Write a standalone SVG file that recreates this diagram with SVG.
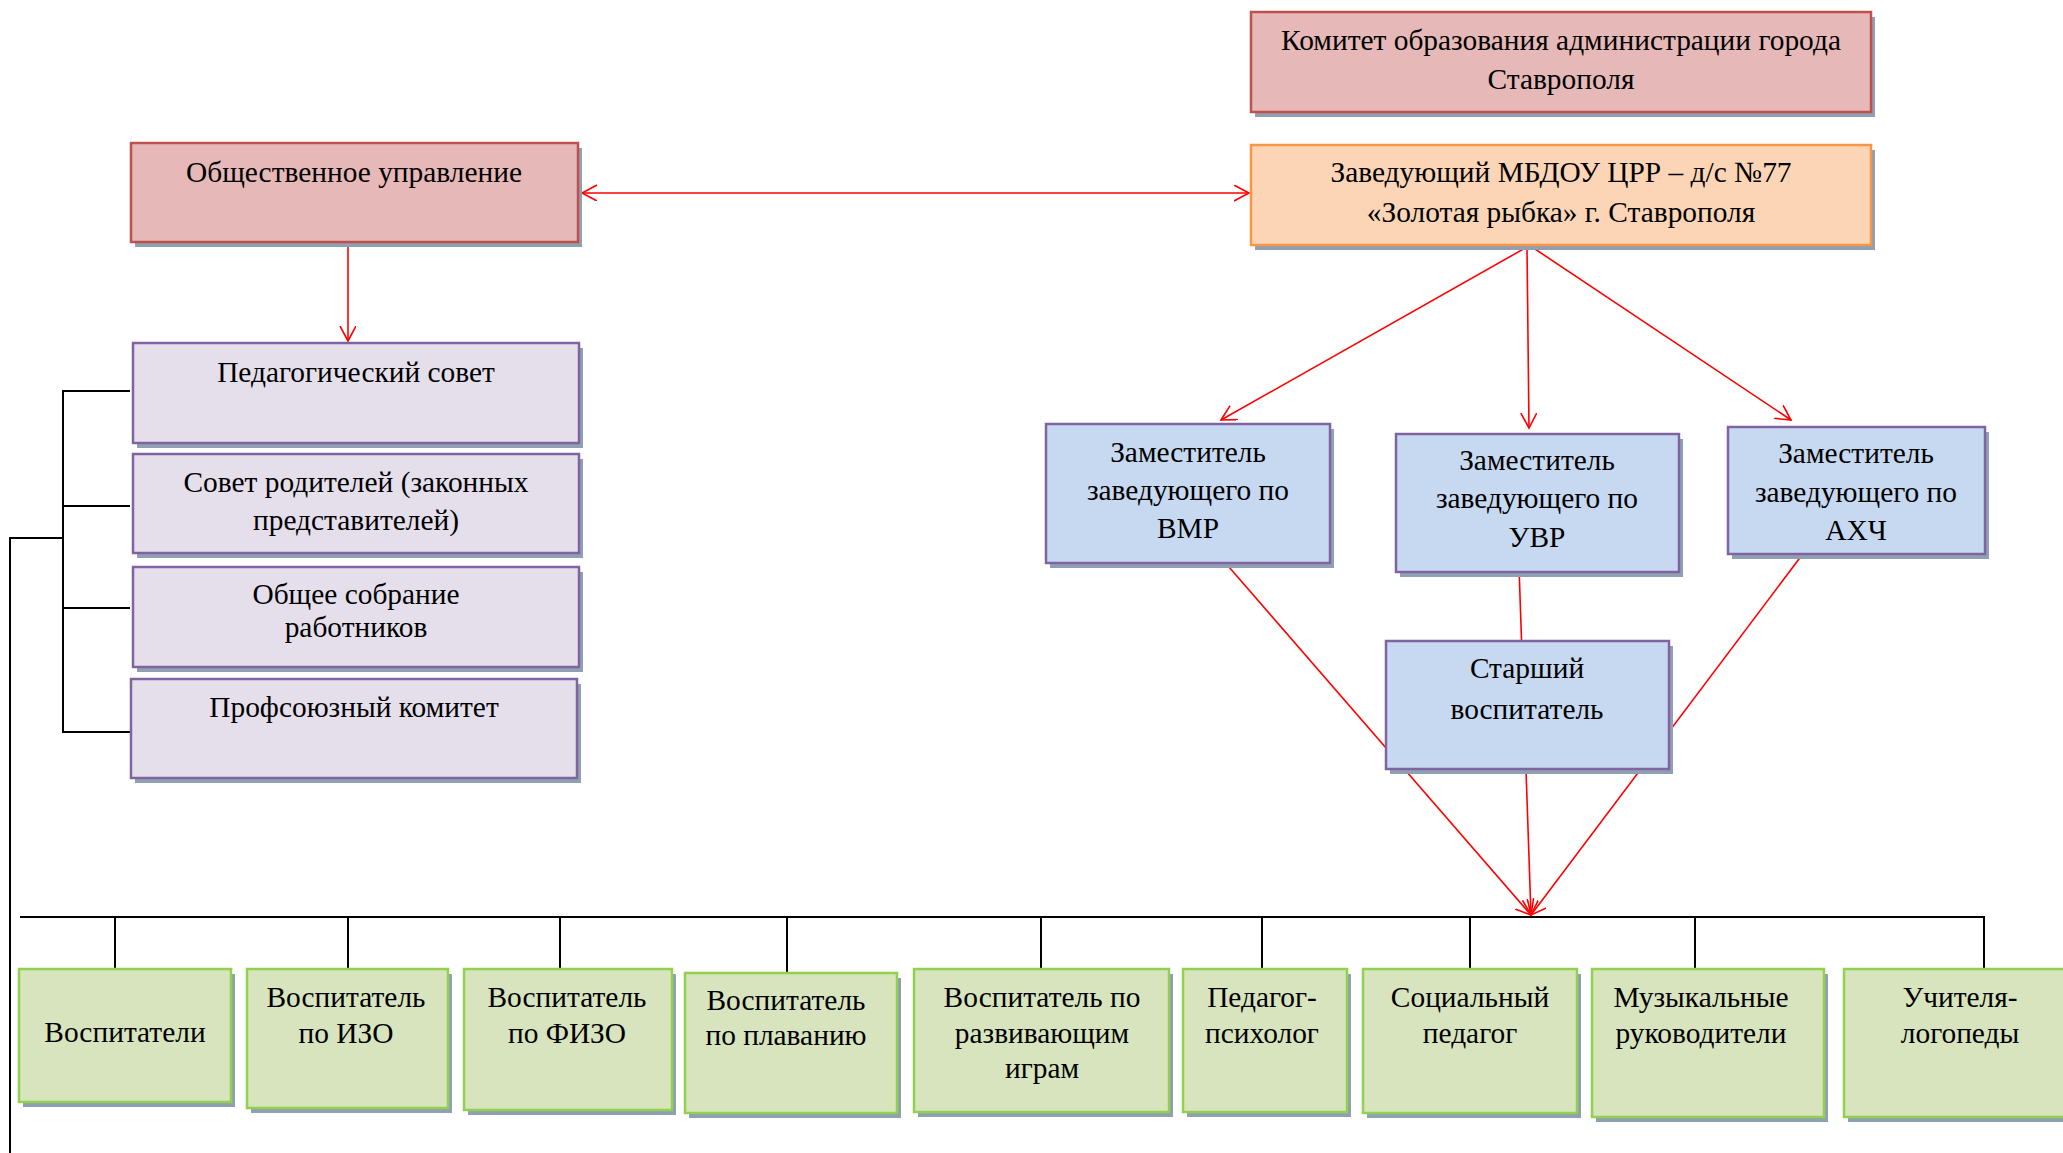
<svg xmlns="http://www.w3.org/2000/svg" width="2063" height="1153" viewBox="0 0 2063 1153">
<style>
text{font-family:"Liberation Serif","Times New Roman",serif;font-size:29.4px;fill:#000;text-anchor:middle}
.sh{fill:#8FA0B2}
.red{fill:#E6B8B7;stroke:#C0504D;stroke-width:2.5}
.ora{fill:#FBD5B5;stroke:#F79646;stroke-width:2.5}
.pur{fill:#E5DFEC;stroke:#8064A2;stroke-width:2.5}
.blu{fill:#C6D9F1;stroke:#8064A2;stroke-width:2.5}
.grn{fill:#D7E4BD;stroke:#92D050;stroke-width:2.5}
.ra{stroke:#FF0000;stroke-width:1.6;fill:none}
.bl{stroke:#000;stroke-width:2;fill:none}
</style>
<defs>
<marker id="ah" markerUnits="userSpaceOnUse" markerWidth="18" markerHeight="18" refX="15" refY="8" orient="auto-start-reverse">
<path d="M0,0 L15,8 L0,16" fill="none" stroke="#FF0000" stroke-width="1.6"/>
</marker>
</defs>
<rect width="2063" height="1153" fill="#fff"/>

<g id="connectors">
<line class="ra" x1="1519" y1="567" x2="1531" y2="915" marker-end="url(#ah)"/>
<line class="ra" x1="1229" y1="567" x2="1531" y2="915" marker-end="url(#ah)"/>
<line class="ra" x1="1802" y1="555" x2="1531" y2="915" marker-end="url(#ah)"/>
<line class="ra" x1="582" y1="193" x2="1249" y2="193" marker-start="url(#ah)" marker-end="url(#ah)"/>
<line class="ra" x1="348" y1="244" x2="348" y2="341" marker-end="url(#ah)"/>
<line class="ra" x1="1527" y1="247" x2="1221" y2="420" marker-end="url(#ah)"/>
<line class="ra" x1="1527" y1="247" x2="1529" y2="428" marker-end="url(#ah)"/>
<line class="ra" x1="1532" y1="247" x2="1791" y2="420" marker-end="url(#ah)"/>
<path class="bl" d="M130,391 H63 V732 H130 M63,506 H130 M63,608 H130 M63,538 H10 V1153"/>
<path class="bl" d="M20,917 H1984 V969 M115,917 V969 M348,917 V969 M560,917 V969 M787,917 V972 M1041,917 V969 M1262,917 V969 M1470,917 V969 M1695,917 V969"/>
</g>

<g id="komitet">
<rect class="sh" x="1255" y="17" width="620" height="100"/>
<rect class="red" x="1251" y="12" width="620" height="100"/>
<text x="1561" y="50">Комитет образования администрации города</text>
<text x="1561" y="89">Ставрополя</text>
</g>
<g id="zaveduyushchiy">
<rect class="sh" x="1255" y="150" width="620" height="100"/>
<rect class="ora" x="1251" y="145" width="620" height="100"/>
<text x="1561" y="182">Заведующий МБДОУ ЦРР – д/с №77</text>
<text x="1561" y="222">«Золотая рыбка» г. Ставрополя</text>
</g>
<g id="obshchestvennoe">
<rect class="sh" x="135" y="148" width="447" height="99"/>
<rect class="red" x="131" y="143" width="447" height="99"/>
<text x="354" y="182">Общественное управление</text>
</g>
<g id="pedsovet">
<rect class="sh" x="137" y="348" width="446" height="100"/>
<rect class="pur" x="133" y="343" width="446" height="100"/>
<text x="356" y="382">Педагогический совет</text>
</g>
<g id="sovet-roditeley">
<rect class="sh" x="137" y="459" width="446" height="99"/>
<rect class="pur" x="133" y="454" width="446" height="99"/>
<text x="356" y="492">Совет родителей (законных</text>
<text x="356" y="530">представителей)</text>
</g>
<g id="obshchee-sobranie">
<rect class="sh" x="137" y="572" width="446" height="100"/>
<rect class="pur" x="133" y="567" width="446" height="100"/>
<text x="356" y="604">Общее собрание</text>
<text x="356" y="637">работников</text>
</g>
<g id="profkom">
<rect class="sh" x="135" y="684" width="446" height="99"/>
<rect class="pur" x="131" y="679" width="446" height="99"/>
<text x="354" y="717">Профсоюзный комитет</text>
</g>

<g id="zam-vmr">
<rect class="sh" x="1050" y="429" width="284" height="139"/>
<rect class="blu" x="1046" y="424" width="284" height="139"/>
<text x="1188" y="462">Заместитель</text>
<text x="1188" y="500">заведующего по</text>
<text x="1188" y="538">ВМР</text>
</g>
<g id="zam-uvr">
<rect class="sh" x="1400" y="439" width="283" height="138"/>
<rect class="blu" x="1396" y="434" width="283" height="138"/>
<text x="1537" y="470">Заместитель</text>
<text x="1537" y="508">заведующего по</text>
<text x="1537" y="547">УВР</text>
</g>
<g id="zam-ahch">
<rect class="sh" x="1732" y="432" width="257" height="127"/>
<rect class="blu" x="1728" y="427" width="257" height="127"/>
<text x="1856" y="463">Заместитель</text>
<text x="1856" y="502">заведующего по</text>
<text x="1856" y="540">АХЧ</text>
</g>
<g id="starshiy">
<rect class="sh" x="1390" y="646" width="283" height="128"/>
<rect class="blu" x="1386" y="641" width="283" height="128"/>
<text x="1527" y="678">Старший</text>
<text x="1527" y="719">воспитатель</text>
</g>

<g id="vospitateli">
<rect class="sh" x="23" y="974" width="212" height="133"/>
<rect class="grn" x="19" y="969" width="212" height="133"/>
<text x="125" y="1042">Воспитатели</text>
</g>
<g id="vosp-izo">
<rect class="sh" x="251" y="974" width="201" height="139"/>
<rect class="grn" x="247" y="969" width="201" height="139"/>
<text x="346" y="1007">Воспитатель</text>
<text x="346" y="1043">по ИЗО</text>
</g>
<g id="vosp-fizo">
<rect class="sh" x="468" y="974" width="208" height="141"/>
<rect class="grn" x="464" y="969" width="208" height="141"/>
<text x="567" y="1007">Воспитатель</text>
<text x="567" y="1043">по ФИЗО</text>
</g>
<g id="vosp-plavanie">
<rect class="sh" x="689" y="978" width="212" height="140"/>
<rect class="grn" x="685" y="973" width="212" height="140"/>
<text x="786" y="1010">Воспитатель</text>
<text x="786" y="1045">по плаванию</text>
</g>
<g id="vosp-igry">
<rect class="sh" x="918" y="974" width="255" height="143"/>
<rect class="grn" x="914" y="969" width="255" height="143"/>
<text x="1042" y="1007">Воспитатель по</text>
<text x="1042" y="1043">развивающим</text>
<text x="1042" y="1078">играм</text>
</g>
<g id="psiholog">
<rect class="sh" x="1187" y="974" width="164" height="143"/>
<rect class="grn" x="1183" y="969" width="164" height="143"/>
<text x="1262" y="1007">Педагог-</text>
<text x="1262" y="1043">психолог</text>
</g>
<g id="socpedagog">
<rect class="sh" x="1367" y="974" width="214" height="144"/>
<rect class="grn" x="1363" y="969" width="214" height="144"/>
<text x="1470" y="1007">Социальный</text>
<text x="1470" y="1043">педагог</text>
</g>
<g id="muz-ruk">
<rect class="sh" x="1596" y="974" width="232" height="148"/>
<rect class="grn" x="1592" y="969" width="232" height="148"/>
<text x="1701" y="1007">Музыкальные</text>
<text x="1701" y="1043">руководители</text>
</g>
<g id="logopedy">
<rect class="sh" x="1848" y="974" width="230" height="148"/>
<rect class="grn" x="1844" y="969" width="230" height="148"/>
<text x="1960" y="1007">Учителя-</text>
<text x="1960" y="1043">логопеды</text>
</g>
</svg>
